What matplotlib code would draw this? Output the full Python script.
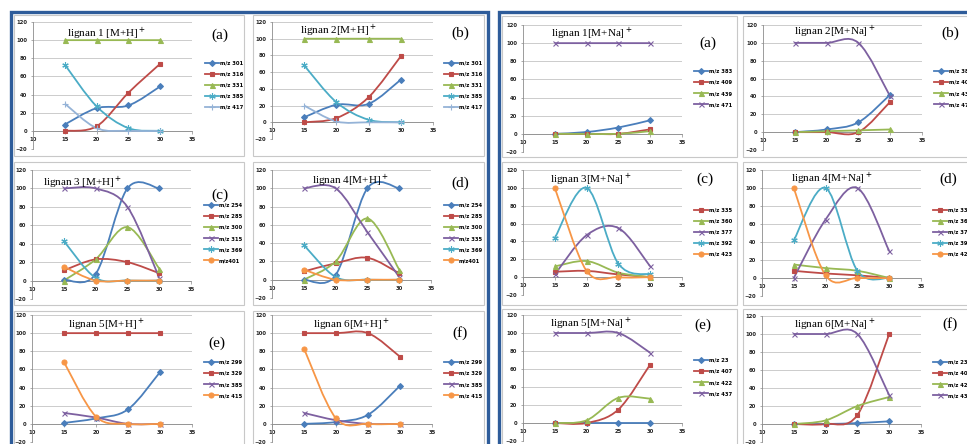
import matplotlib
matplotlib.use('Agg')
import matplotlib.pyplot as plt
from matplotlib.path import Path
from matplotlib.patches import PathPatch, Rectangle
from matplotlib.lines import Line2D

plt.rcParams['mathtext.fontset'] = 'stix'
plt.rcParams['font.weight'] = 'bold'

W, H = 967, 444

x_vals = [15, 20, 25, 30]

# [M+H]+ adducts
h1_title = 'lignan 1 [M+H]$^+$'
h1_mz = ['m/z 301', 'm/z 316', 'm/z 331', 'm/z 385', 'm/z 417']
h1_vals = [[7, 25, 28, 49], [0, 5, 42, 74], [100, 100, 100, 100], [73, 27, 3, 0], [30, 3, 0, 0]]
h1_kinds = ['blue', 'red', 'green', 'cyan', 'pale']

h2_title = 'lignan 2[M+H]$^+$'
h2_mz = ['m/z 301', 'm/z 316', 'm/z 331', 'm/z 385', 'm/z 417']
h2_vals = [[6, 21, 22, 51], [0, 5, 30, 79], [100, 100, 100, 100], [68, 24, 3, 0], [20, 1, 0, 0]]
h2_kinds = ['blue', 'red', 'green', 'cyan', 'pale']

h3_title = 'lignan 3 [M+H]$^+$'
h3_mz = ['m/z 254', 'm/z 285', 'm/z 300', 'm/z 315', 'm/z 369', 'm/z401']
h3_vals = [[1, 7, 100, 100], [11, 23, 20, 8], [0, 23, 58, 13], [100, 100, 80, 3], [43, 3, 0, 0], [15, 0, 0, 0]]
h3_kinds = ['blue', 'red', 'green', 'purple', 'cyan', 'orange']

h4_title = 'lignan 4[M+H]$^+$'
h4_mz = ['m/z 254', 'm/z 285', 'm/z 300', 'm/z 335', 'm/z 369', 'm/z401']
h4_vals = [[0, 5, 100, 100], [9, 18, 24, 7], [0, 20, 67, 11], [100, 100, 52, 3], [38, 3, 0, 0], [11, 0, 0, 0]]
h4_kinds = ['blue', 'red', 'green', 'purple', 'cyan', 'orange']

h5_title = 'lignan 5[M+H]$^+$'
h5_mz = ['m/z 299', 'm/z 329', 'm/z 385', 'm/z 415']
h5_vals = [[1, 6, 16, 57], [100, 100, 100, 100], [12, 7, 0, 0], [68, 8, 0, 0]]
h5_kinds = ['blue', 'red', 'purple', 'orange']

h6_title = 'lignan 6[M+H]$^+$'
h6_mz = ['m/z 299', 'm/z 329', 'm/z 385', 'm/z 415']
h6_vals = [[0, 2, 10, 42], [100, 100, 100, 74], [12, 4, 0, 0], [83, 6, 0, 0]]
h6_kinds = ['blue', 'red', 'purple', 'orange']

# [M+Na]+ adducts
n1_title = 'lignan 1[M+Na]$^+$'
n1_mz = ['m/z 383', 'm/z 409', 'm/z 439', 'm/z 471']
n1_vals = [[0, 2, 7, 15], [0, 0, 0, 5], [0, 0, 0, 3], [100, 100, 100, 100]]
n1_kinds = ['blue', 'red', 'green', 'purple']

n2_title = 'lignan 2[M+Na]$^+$'
n2_mz = ['m/z 383', 'm/z 409', 'm/z 439', 'm/z 471']
n2_vals = [[0, 3, 11, 42], [0, 0, 0, 34], [0, 1, 2, 3], [100, 100, 100, 40]]
n2_kinds = ['blue', 'red', 'green', 'purple']

n3_title = 'lignan 3[M+Na]$^+$'
n3_mz = ['m/z 335', 'm/z 360', 'm/z 377', 'm/z 392', 'm/z 423']
n3_vals = [[6, 7, 3, 0], [12, 18, 5, 0], [3, 47, 55, 12], [44, 100, 15, 3], [100, 7, 0, 0]]
n3_kinds = ['red', 'green', 'purple', 'cyan', 'orange']

n4_title = 'lignan 4[M+Na]$^+$'
n4_mz = ['m/z 335', 'm/z 360', 'm/z 377', 'm/z 392', 'm/z 423']
n4_vals = [[8, 5, 3, 0], [15, 11, 8, 0], [0, 65, 100, 30], [42, 100, 8, 0], [100, 3, 0, 0]]
n4_kinds = ['red', 'green', 'purple', 'cyan', 'orange']

n5_title = 'lignan 5[M+Na]$^+$'
n5_mz = ['m/z 23', 'm/z 407', 'm/z 422', 'm/z 437']
n5_vals = [[0, 0, 0, 0], [0, 0, 15, 65], [0, 3, 28, 27], [100, 100, 100, 78]]
n5_kinds = ['blue', 'red', 'green', 'purple']

n6_title = 'lignan 6[M+Na]$^+$'
n6_mz = ['m/z 23', 'm/z 407', 'm/z 422', 'm/z 437']
n6_vals = [[0, 0, 1, 3], [0, 0, 10, 100], [0, 4, 20, 30], [100, 100, 100, 32]]
n6_kinds = ['blue', 'red', 'green', 'purple']

STYLE = {
    'blue': ('#4A7EBB', 'D', 3.0),
    'red': ('#BE4B48', 's', 3.2),
    'green': ('#98B954', '^', 3.6),
    'purple': ('#7D60A0', 'x', 3.6),
    'cyan': ('#4BACC6', (6, 2, 0), 4.6),
    'orange': ('#F79646', 'o', 3.6),
    'pale': ('#95B3D7', '+', 4.6),
}

BORDER = '#2E5C9A'
SERIF = 'Liberation Serif'

fig = plt.figure(figsize=(W / 100, H / 100), dpi=100)


def fx(x):
    return x / W


def fy(y):
    return 1 - y / H


def smooth(xs, ys):
    # excel-style smoothed line: cubic bezier segments through the points
    pts = list(zip(xs, ys))
    verts = [pts[0]]
    codes = [Path.MOVETO]
    n = len(pts)
    for i in range(n - 1):
        p0 = pts[i - 1] if i > 0 else pts[i]
        p1 = pts[i]
        p2 = pts[i + 1]
        p3 = pts[i + 2] if i + 2 < n else pts[i + 1]
        c1 = (p1[0] + (p2[0] - p0[0]) / 6, p1[1] + (p2[1] - p0[1]) / 6)
        c2 = (p2[0] - (p3[0] - p1[0]) / 6, p2[1] - (p3[1] - p1[1]) / 6)
        verts += [c1, c2, p2]
        codes += [Path.CURVE4] * 3
    return Path(verts, codes)


def box(x0, y0, x1, y1, color, lw):
    fig.patches.append(Rectangle((fx(x0), fy(y1)), fx(x1) - fx(x0), fy(y0) - fy(y1),
                                 transform=fig.transFigure, fill=False,
                                 ec=color, lw=lw, clip_on=False))


def chart(ax_px, title, t_px, letter, l_px, leg_px, mz, vals, kinds):
    x0, y0, x1, y1 = ax_px
    ax = fig.add_axes([fx(x0), fy(y1), fx(x1) - fx(x0), fy(y0) - fy(y1)])
    ax.set_xlim(10, 35)
    ax.set_ylim(-20, 120)
    ax.set_xticks(range(10, 36, 5))
    ax.set_yticks(range(-20, 121, 20))
    ax.grid(axis='y', color='#C4C4C4', lw=0.6)
    ax.set_axisbelow(True)
    ax.patch.set_alpha(0)
    for s in ['top', 'right']:
        ax.spines[s].set_visible(False)
    ax.spines['bottom'].set_position(('data', 0))
    for s in ['bottom', 'left']:
        ax.spines[s].set_color('#8C8C8C')
        ax.spines[s].set_linewidth(0.6)
    ax.tick_params(axis='both', labelsize=3.8, length=1.8, width=0.5,
                   color='#8C8C8C', labelcolor='#222222')
    ax.tick_params(axis='x', pad=2.5)
    ax.tick_params(axis='y', pad=2.5)

    handles = []
    for ys, k in zip(vals, kinds):
        c, m, ms = STYLE[k]
        ax.add_patch(PathPatch(smooth(x_vals, ys), fc='none', ec=c, lw=1.3, zorder=3))
        ax.plot(x_vals, ys, ls='none', marker=m, ms=ms, color=c, mec=c, mew=0.8,
                zorder=4, clip_on=False)
        handles.append(Line2D([], [], color=c, lw=1.3, marker=m, ms=ms, mec=c, mew=0.8))
    ax.legend(handles, mz, loc='center left', bbox_to_anchor=(fx(leg_px[0]), fy(leg_px[1])),
              bbox_transform=fig.transFigure, frameon=False, fontsize=3.8,
              handlelength=2.6, handletextpad=0.15, labelspacing=1.15,
              borderpad=0, borderaxespad=0, numpoints=1)

    fig.text(fx(t_px[0]), fy(t_px[1]), title, ha='center', va='center',
             fontsize=8, family=SERIF, fontweight='normal')
    fig.text(fx(l_px[0]), fy(l_px[1]), letter, ha='center', va='center',
             fontsize=11, family=SERIF, fontweight='normal')


# panel frames
box(11, 12, 488, 470, BORDER, 2.4)
box(499, 12, 1000, 470, BORDER, 2.4)
for (a, b) in [(14, 244), (253, 484)]:
    for (c, d) in [(15, 156), (162, 305), (311, 460)]:
        box(a, c, b, d, '#C8C8C8', 0.8)
for (a, b) in [(502, 737), (743, 1000)]:
    for (c, d) in [(16, 157), (162, 305), (309, 460)]:
        box(a, c, b, d, '#C8C8C8', 0.8)

chart((33, 22, 192, 149), h1_title, (107, 33), '(a)', (220, 35), (205, 85), h1_mz, h1_vals, h1_kinds)
chart((272, 22, 433, 139), h2_title, (338, 30), '(b)', (460, 33), (444, 85), h2_mz, h2_vals, h2_kinds)
chart((32, 170, 191, 299), h3_title, (83, 182), '(c)', (220, 195), (204, 233), h3_mz, h3_vals, h3_kinds)
chart((272, 170, 431, 298), h4_title, (350, 180), '(d)', (460, 183), (444, 233), h4_mz, h4_vals, h4_kinds)
chart((32, 315, 192, 442), h5_title, (106, 324), '(e)', (217, 343), (204, 379), h5_mz, h5_vals, h5_kinds)
chart((272, 315, 432, 442), h6_title, (351, 324), '(f)', (460, 333), (444, 379), h6_mz, h6_vals, h6_kinds)

chart((523, 25, 682, 152), n1_title, (592, 33), '(a)', (708, 43), (694, 88), n1_mz, n1_vals, n1_kinds)
chart((763, 25, 922, 150), n2_title, (835, 31), '(b)', (950, 33), (934, 88), n2_mz, n2_vals, n2_kinds)
chart((523, 170, 682, 295), n3_title, (591, 179), '(c)', (705, 179), (694, 232), n3_mz, n3_vals, n3_kinds)
chart((762, 170, 921, 296), n4_title, (832, 178), '(d)', (948, 179), (933, 232), n4_mz, n4_vals, n4_kinds)
chart((523, 315, 682, 441), n5_title, (591, 323), '(e)', (703, 325), (694, 377), n5_mz, n5_vals, n5_kinds)
chart((762, 316, 921, 442), n6_title, (835, 324), '(f)', (950, 324), (933, 379), n6_mz, n6_vals, n6_kinds)

fig.savefig('out.png', dpi=100)
